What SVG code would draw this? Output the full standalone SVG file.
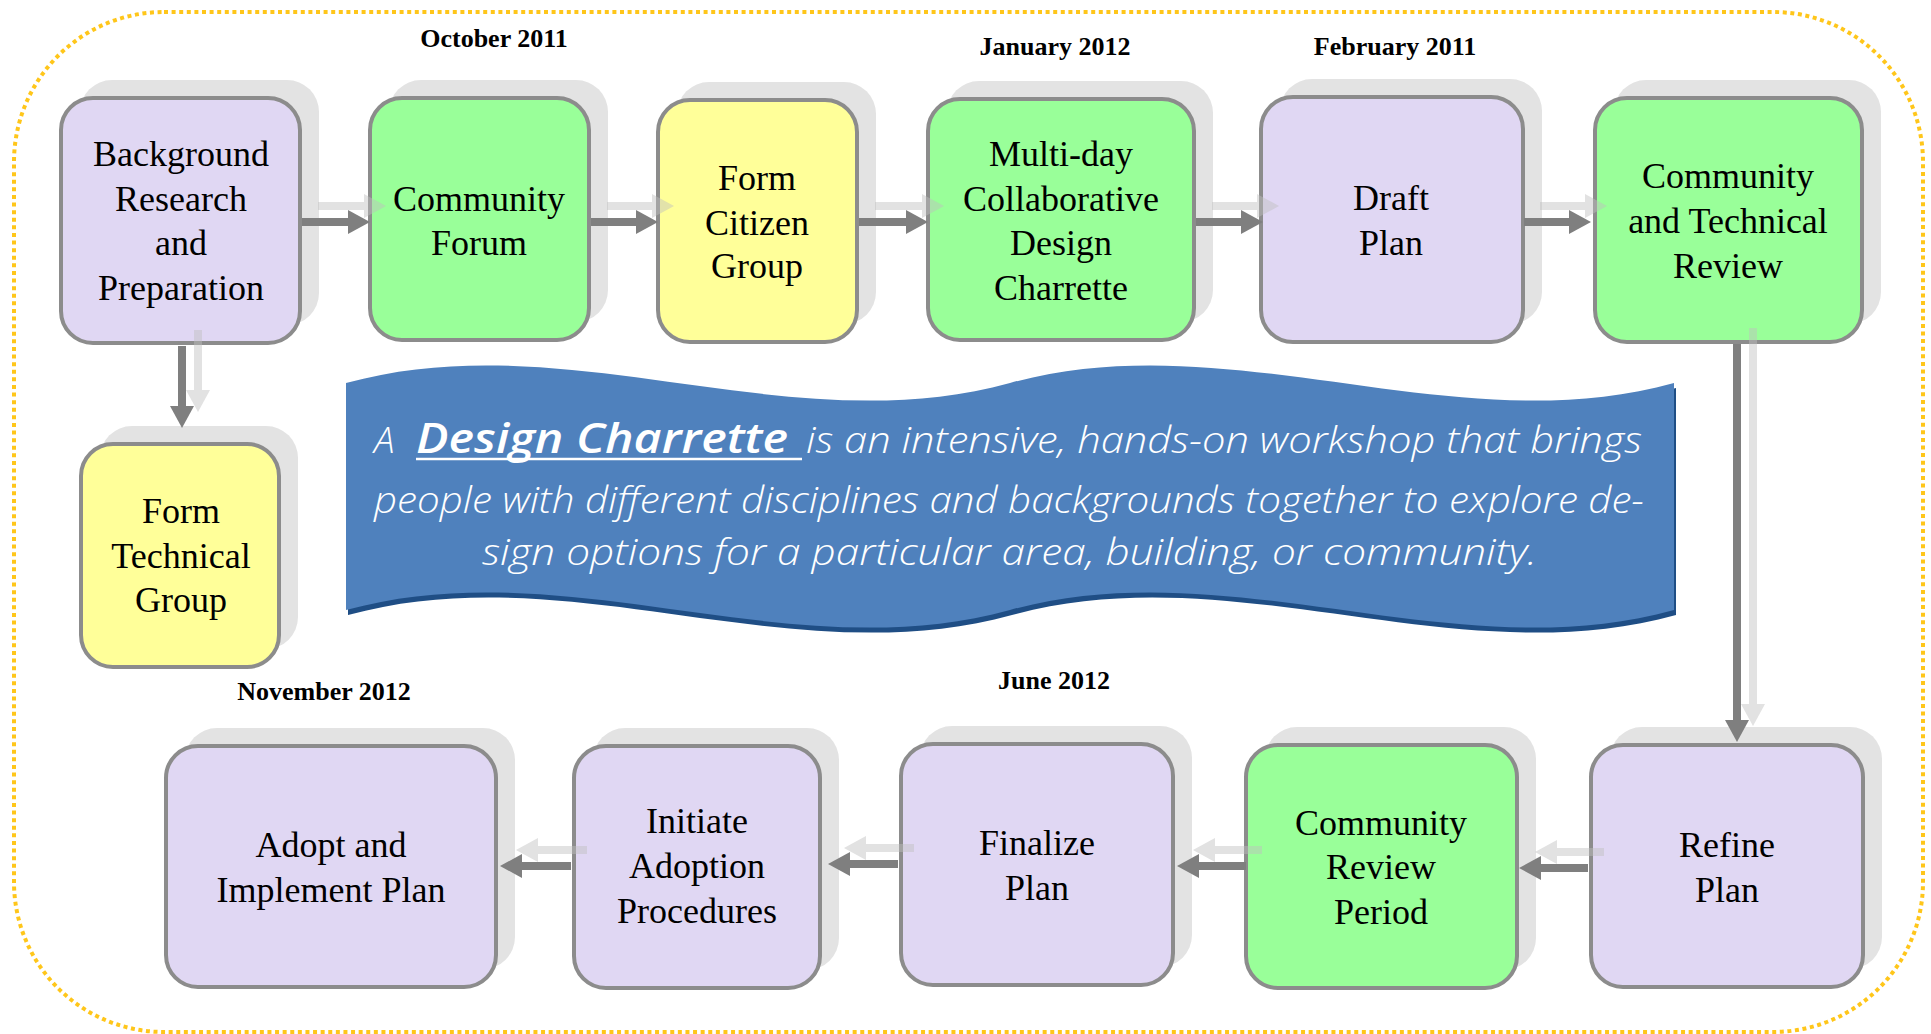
<svg xmlns="http://www.w3.org/2000/svg" width="1931" height="1034" viewBox="0 0 1931 1034">
  <defs>
    <style>
      .frame { fill: none; stroke: #ffc61a; stroke-width: 4; stroke-dasharray: 4 3.6; }
      .shadow { fill: #e3e3e3; }
      .box { stroke: #8c8c8c; stroke-width: 4; }
      .lav { fill: #e0d7f3; }
      .grn { fill: #99ff99; }
      .yel { fill: #ffff99; }
      .lbl { font-family: "Liberation Serif", "Times New Roman", serif; font-size: 36px; text-anchor: middle; fill: #000; }
      .date { font-family: "Liberation Serif", "Times New Roman", serif; font-size: 26px; font-weight: bold; text-anchor: middle; fill: #000; }
      .dark { fill: none; stroke: #7f7f7f; stroke-width: 8; marker-end: url(#headDark); }
      .light { fill: none; stroke: #bfbfbf; stroke-width: 8; marker-end: url(#headLight); }
      .note { font-family: "Open Sans", "DejaVu Sans", sans-serif; font-style: italic; font-weight: 300; font-size: 37px; fill: #ffffff; }
      .noteBold { font-family: "Open Sans", "DejaVu Sans", sans-serif; font-style: italic; font-weight: 600; font-size: 42px; fill: #ffffff; }
    </style>
    <marker id="headDark" markerUnits="userSpaceOnUse" markerWidth="22" markerHeight="24" refX="0" refY="12" orient="auto">
      <path d="M0,0 L22,12 L0,24 Z" fill="#7f7f7f"/>
    </marker>
    <marker id="headLight" markerUnits="userSpaceOnUse" markerWidth="22" markerHeight="24" refX="0" refY="12" orient="auto">
      <path d="M0,0 L22,12 L0,24 Z" fill="#bfbfbf"/>
    </marker>
  </defs>

  <rect width="1931" height="1034" fill="#ffffff"/>

  <!-- dotted outer frame -->
  <rect class="frame" x="14" y="12" width="1909" height="1020" rx="150" ry="150"/>

  <!-- date labels -->
  <g id="dates">
    <text class="date" x="494" y="47">October 2011</text>
    <text class="date" x="1055" y="55">January 2012</text>
    <text class="date" x="1395" y="55">February 2011</text>
    <text class="date" x="324" y="700">November 2012</text>
    <text class="date" x="1054" y="689">June 2012</text>
  </g>

  <!-- top row -->
  <g id="background-research">
    <rect class="shadow" x="80" y="80" width="239" height="245" rx="32"/>
    <rect class="box lav" x="61" y="98" width="239" height="245" rx="32"/>
    <text class="lbl" x="181" y="166">Background</text>
    <text class="lbl" x="181" y="211">Research</text>
    <text class="lbl" x="181" y="255">and</text>
    <text class="lbl" x="181" y="300">Preparation</text>
  </g>

  <g id="community-forum">
    <rect class="shadow" x="389" y="80" width="219" height="242" rx="32"/>
    <rect class="box grn" x="370" y="98" width="219" height="242" rx="32"/>
    <text class="lbl" x="479" y="211">Community</text>
    <text class="lbl" x="479" y="255">Forum</text>
  </g>

  <g id="form-citizen-group">
    <rect class="shadow" x="677" y="82" width="199" height="242" rx="32"/>
    <rect class="box yel" x="658" y="100" width="199" height="242" rx="32"/>
    <text class="lbl" x="757" y="190">Form</text>
    <text class="lbl" x="757" y="235">Citizen</text>
    <text class="lbl" x="757" y="278">Group</text>
  </g>

  <g id="design-charrette">
    <rect class="shadow" x="947" y="81" width="266" height="241" rx="32"/>
    <rect class="box grn" x="928" y="99" width="266" height="241" rx="32"/>
    <text class="lbl" x="1061" y="166">Multi-day</text>
    <text class="lbl" x="1061" y="211">Collaborative</text>
    <text class="lbl" x="1061" y="255">Design</text>
    <text class="lbl" x="1061" y="300">Charrette</text>
  </g>

  <g id="draft-plan">
    <rect class="shadow" x="1280" y="79" width="262" height="245" rx="32"/>
    <rect class="box lav" x="1261" y="97" width="262" height="245" rx="32"/>
    <text class="lbl" x="1391" y="210">Draft</text>
    <text class="lbl" x="1391" y="255">Plan</text>
  </g>

  <g id="community-technical-review">
    <rect class="shadow" x="1614" y="80" width="267" height="244" rx="32"/>
    <rect class="box grn" x="1595" y="98" width="267" height="244" rx="32"/>
    <text class="lbl" x="1728" y="188">Community</text>
    <text class="lbl" x="1728" y="233">and Technical</text>
    <text class="lbl" x="1728" y="278">Review</text>
  </g>

  <g id="form-technical-group">
    <rect class="shadow" x="100" y="426" width="198" height="223" rx="32"/>
    <rect class="box yel" x="81" y="444" width="198" height="223" rx="32"/>
    <text class="lbl" x="181" y="523">Form</text>
    <text class="lbl" x="181" y="568">Technical</text>
    <text class="lbl" x="181" y="612">Group</text>
  </g>

  <!-- bottom row -->
  <g id="adopt-implement">
    <rect class="shadow" x="185" y="728" width="330" height="241" rx="32"/>
    <rect class="box lav" x="166" y="746" width="330" height="241" rx="32"/>
    <text class="lbl" x="331" y="857">Adopt and</text>
    <text class="lbl" x="331" y="902">Implement Plan</text>
  </g>

  <g id="initiate-adoption">
    <rect class="shadow" x="593" y="728" width="246" height="242" rx="32"/>
    <rect class="box lav" x="574" y="746" width="246" height="242" rx="32"/>
    <text class="lbl" x="697" y="833">Initiate</text>
    <text class="lbl" x="697" y="878">Adoption</text>
    <text class="lbl" x="697" y="923">Procedures</text>
  </g>

  <g id="finalize-plan">
    <rect class="shadow" x="920" y="726" width="272" height="241" rx="32"/>
    <rect class="box lav" x="901" y="744" width="272" height="241" rx="32"/>
    <text class="lbl" x="1037" y="855">Finalize</text>
    <text class="lbl" x="1037" y="900">Plan</text>
  </g>

  <g id="community-review-period">
    <rect class="shadow" x="1265" y="727" width="271" height="243" rx="32"/>
    <rect class="box grn" x="1246" y="745" width="271" height="243" rx="32"/>
    <text class="lbl" x="1381" y="835">Community</text>
    <text class="lbl" x="1381" y="879">Review</text>
    <text class="lbl" x="1381" y="924">Period</text>
  </g>

  <g id="refine-plan">
    <rect class="shadow" x="1610" y="727" width="272" height="242" rx="32"/>
    <rect class="box lav" x="1591" y="745" width="272" height="242" rx="32"/>
    <text class="lbl" x="1727" y="857">Refine</text>
    <text class="lbl" x="1727" y="902">Plan</text>
  </g>

  <!-- definition banner -->
  <g id="definition">
    <path transform="translate(2,5)" fill="#1f4e85"
          d="M346,383 C567,322 788,444 1010,383 C1231,322 1452,444 1674,383 L1674,610 C1452,671 1231,549 1010,610 C788,671 567,549 346,610 Z"/>
    <path fill="#4f81bd"
          d="M346,383 C567,322 788,444 1010,383 C1231,322 1452,444 1674,383 L1674,610 C1452,671 1231,549 1010,610 C788,671 567,549 346,610 Z"/>
    <text class="note" x="374" y="453">A</text>
    <text class="noteBold" x="416" y="453" textLength="372" lengthAdjust="spacingAndGlyphs">Design Charrette</text>
    <line x1="416" y1="459" x2="802" y2="459" stroke="#ffffff" stroke-width="2.5"/>
    <text class="note" x="806" y="453" textLength="836" lengthAdjust="spacingAndGlyphs">is an intensive, hands-on workshop that brings</text>
    <text class="note" x="374" y="513" textLength="1270" lengthAdjust="spacingAndGlyphs">people with different disciplines and backgrounds together to explore de-</text>
    <text class="note" x="482" y="565" textLength="1055" lengthAdjust="spacingAndGlyphs">sign options for a particular area, building, or community.</text>
  </g>

  <!-- connectors: pale offset echoes, then solid arrows -->
  <g id="connectors">
    <g opacity="0.45" transform="translate(16,-16)">
      <path class="light" d="M302,222 H348"/>
      <path class="light" d="M591,222 H636"/>
      <path class="light" d="M859,222 H906"/>
      <path class="light" d="M1196,222 H1241"/>
      <path class="light" d="M1524,222 H1569"/>
      <path class="light" d="M182,346 V406"/>
      <path class="light" d="M1737,344 V720"/>
      <path class="light" d="M1588,868 H1541"/>
      <path class="light" d="M1246,866 H1199"/>
      <path class="light" d="M898,864 H850"/>
      <path class="light" d="M571,866 H522"/>
    </g>
    <path class="dark" d="M302,222 H348"/>
    <path class="dark" d="M591,222 H636"/>
    <path class="dark" d="M859,222 H906"/>
    <path class="dark" d="M1196,222 H1241"/>
    <path class="dark" d="M1524,222 H1569"/>
    <path class="dark" d="M182,346 V406"/>
    <path class="dark" d="M1737,344 V720"/>
    <path class="dark" d="M1588,868 H1541"/>
    <path class="dark" d="M1246,866 H1199"/>
    <path class="dark" d="M898,864 H850"/>
    <path class="dark" d="M571,866 H522"/>
  </g>
</svg>
